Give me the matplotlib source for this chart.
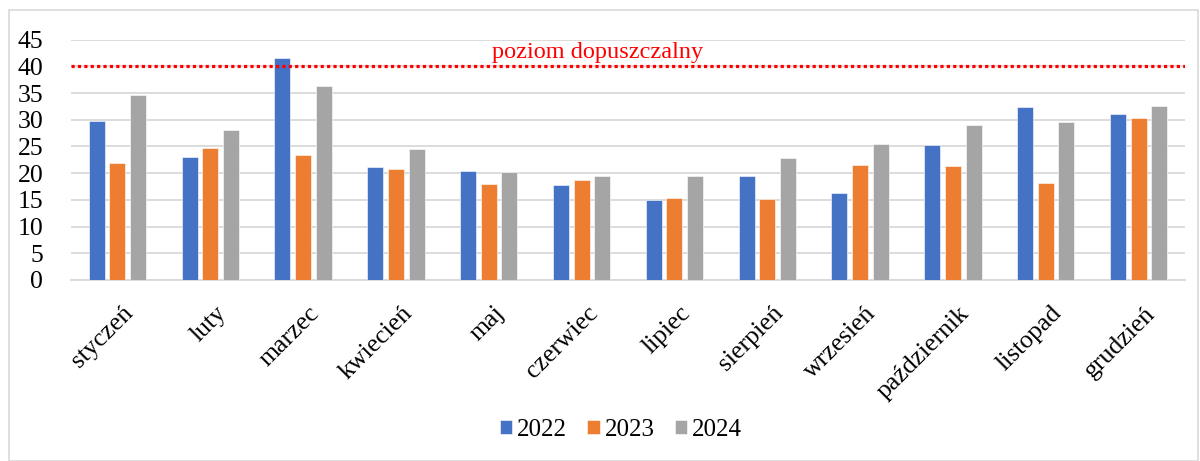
import matplotlib
matplotlib.use("Agg")
import matplotlib.pyplot as plt
import matplotlib.transforms as mtransforms
import numpy as np
from matplotlib.patches import Rectangle

months = ["styczeń", "luty", "marzec", "kwiecień", "maj", "czerwiec", "lipiec",
          "sierpień", "wrzesień", "październik", "listopad", "grudzień"]
v2022 = [29.8, 23.0, 41.6, 21.2, 20.5, 17.8, 14.9, 19.4, 16.3, 25.3, 32.4, 31.0]
v2023 = [22.0, 24.7, 23.5, 20.8, 18.0, 18.7, 15.3, 15.2, 21.5, 21.3, 18.2, 30.4]
v2024 = [34.6, 28.1, 36.3, 24.6, 20.2, 19.5, 19.4, 22.8, 25.5, 29.0, 29.6, 32.6]
series_names = ["2022", "2023", "2024"]
limit_value = 40
limit_label = "poziom dopuszczalny"
yticks = [0, 5, 10, 15, 20, 25, 30, 35, 40, 45]

colors = ["#4472C4", "#ED7D31", "#A5A5A5"]
plt.rcParams['font.family'] = ['Liberation Serif', 'DejaVu Serif']

fig = plt.figure(figsize=(12, 4.61), dpi=100)
fig.patches.append(Rectangle((9/1200, 0), (1198-9)/1200, 1 - 10/461, transform=fig.transFigure,
                             fill=False, edgecolor="#d9d9d9", linewidth=1.2))
ax = fig.add_axes([71/1200, 1 - 280/461, (1185 - 71)/1200, (280 - 39.7)/461])

x = np.arange(len(months))
w = 0.172
step = 0.223
for i, (vals, name) in enumerate(zip([v2022, v2023, v2024], series_names)):
    ax.bar(x + (i - 1) * step, vals, width=w, color=colors[i], label=name,
           edgecolor="white", linewidth=0.4, zorder=3)

ax.set_xlim(-0.5, len(months) - 0.5)
ax.set_ylim(0, 45)
ax.set_yticks(yticks)
ax.set_yticklabels([str(t) for t in yticks], fontsize=18.5)
ax.grid(axis="y", color="#d9d9d9", linewidth=1.3, zorder=0)
ax.tick_params(axis="both", length=0)
ax.tick_params(axis="y", pad=20)
for s in ["top", "right", "left"]:
    ax.spines[s].set_visible(False)
ax.spines["bottom"].set_color("#d9d9d9")
ax.spines["bottom"].set_linewidth(1.3)

ax.set_xticks(x)
ax.set_xticklabels(months, rotation=45, ha="right", rotation_mode="anchor", fontsize=18.5)
ax.tick_params(axis="x", pad=16)
offset = mtransforms.ScaledTranslation(5/100, 0, fig.dpi_scale_trans)
for lab in ax.get_xticklabels():
    lab.set_transform(lab.get_transform() + offset)

ax.axhline(limit_value, color="red", linestyle=(0, (1, 1)), linewidth=2.3, zorder=4)
ax.text(5.17, limit_value + 0.6, limit_label, color="red", fontsize=17.5, ha="center",
        va="bottom", zorder=5)

handles, labels = ax.get_legend_handles_labels()
fig.legend(handles, labels, loc="center", bbox_to_anchor=(621/1200, 1 - 430/461), ncol=3,
           frameon=False, fontsize=18, handlelength=0.5, handleheight=0.5,
           handletextpad=0.2, columnspacing=0.8)

fig.savefig("out.png", dpi=100)
